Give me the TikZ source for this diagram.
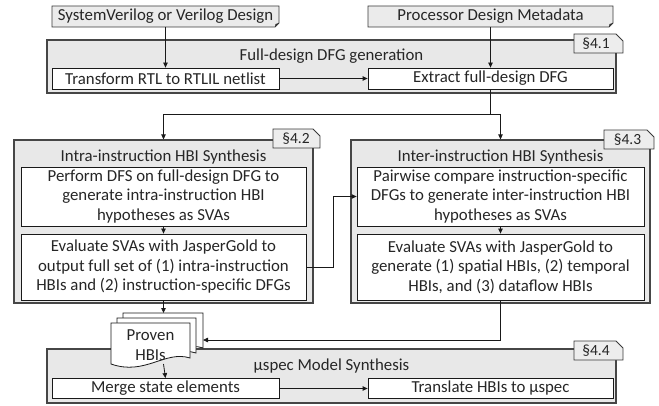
\documentclass[tikz,border=0pt]{standalone}
\usepackage{fontspec}
\setmainfont{Carlito}
\usetikzlibrary{arrows.meta}
\begin{document}
\begin{tikzpicture}[x=1pt,y=-1pt,
  every node/.style={font=\fontsize{16.8}{19.5}\selectfont, text=black!85, inner sep=0pt, align=center},
  bx/.style={draw=black!90, fill=white, line width=0.8pt},
  grp/.style={draw=gray!55!black, fill=gray!18, line width=1.2pt},
  tabst/.style={draw=gray!45!black, fill=gray!14, line width=0.8pt},
  inbox/.style={draw=gray!45!black, fill=gray!16, line width=0.8pt},
  page/.style={draw=black!90, fill=white, line width=0.8pt},
  ln/.style={draw=black!90, line width=0.8pt},
  tabtxt/.style={font=\fontsize{15.5}{17}\selectfont},
  arr/.style={ln, -{Triangle[length=5pt,width=4.5pt]}}]
\useasboundingbox (0,0) rectangle (659,406);

% ---------- inputs ----------
\draw[inbox] (52,6) -- (279,6) -- (279,23) -- (275,27) -- (52,27) -- cycle;
\fill[black!80] (279,23) -- (275.5,24) -- (275,27) -- cycle;
\node (sv) at (165.5,16.5) {SystemVerilog or Verilog Design};
\draw[inbox] (368,6) -- (613,6) -- (613,23) -- (609,27) -- (368,27) -- cycle;
\fill[black!80] (613,23) -- (609.5,24) -- (609,27) -- cycle;
\node (pm) at (490.5,16.5) {Processor Design Metadata};
\coordinate (svb) at (165.5,27);
\coordinate (pmb) at (490.5,27);

% ---------- Full-design DFG generation ----------
\node[grp, minimum width=569pt, minimum height=53pt] (fullgrp) at (331.5,66.5) {};
\draw[tabst] (574,53) -- (574,34) -- (616,34) -- (623,41) -- (623,53) -- cycle;
\node[tabtxt] (t41) at (596,43.5) {§4.1};
\node (fulltitle) at (331.5,56) {Full-design DFG generation};
\node[bx, minimum width=227pt, minimum height=21pt] (tr) at (165.5,78.5) {Transform RTL to RTLIL netlist};
\node[bx, minimum width=245pt, minimum height=21pt] (ex) at (490.5,78.5) {Extract full-design DFG};
\draw[arr] (svb) -- (tr.north);
\draw[arr] (pmb) -- (ex.north);
\draw[arr] (tr.east) -- (ex.west);

% ---------- Intra-instruction ----------
\node[grp, minimum width=299pt, minimum height=163pt] (intragrp) at (163.5,221.5) {};
\draw[tabst] (273,148) -- (273,129) -- (313,129) -- (320,136) -- (320,148) -- cycle;
\node[tabtxt] (t42) at (296,138.5) {§4.2};
\node (intratitle) at (163.5,157) {Intra-instruction HBI Synthesis};
\node[bx, minimum width=285pt, minimum height=59pt] (b1) at (163.5,196.5) {Perform DFS on full-design DFG to\\generate intra-instruction HBI\\hypotheses as SVAs};
\node[bx, minimum width=285pt, minimum height=66pt] (b2) at (163.5,267) {Evaluate SVAs with JasperGold to\\output full set of (1) intra-instruction\\HBIs and (2) instruction-specific DFGs};
\draw[arr] (b1.south) -- (b2.north);

% ---------- Inter-instruction ----------
\node[grp, minimum width=299pt, minimum height=163pt] (intergrp) at (500.5,221.5) {};
\draw[tabst] (604,149) -- (604,130) -- (647,130) -- (654,137) -- (654,149) -- cycle;
\node[tabtxt] (t43) at (627.5,139.5) {§4.3};
\node (intertitle) at (500.5,157) {Inter-instruction HBI Synthesis};
\node[bx, minimum width=287pt, minimum height=59pt] (c1) at (500.5,196.5) {Pairwise compare instruction-specific\\DFGs to generate inter-instruction HBI\\hypotheses as SVAs};
\node[bx, minimum width=287pt, minimum height=66pt] (c2) at (500.5,267) {Evaluate SVAs with JasperGold to\\generate (1) spatial HBIs, (2) temporal\\HBIs, and (3) dataflow HBIs};
\draw[arr] (c1.south) -- (c2.north);

% split from extract
\coordinate (split) at (490.5,114);
\draw[ln] (ex.south) -- (split);
\draw[arr] (split) -| (intragrp.north);
\draw[arr] (split) -| (intergrp.north);
\draw[arr] (b2.east) -- ++(27,0) |- (c1.west);

% ---------- uspec group ----------
\node[grp, minimum width=569pt, minimum height=54pt] (ugrp) at (331.5,376) {};
\draw[tabst] (574,360) -- (574,341) -- (616,341) -- (623,348) -- (623,360) -- cycle;
\node[tabtxt] (t44) at (596,350.5) {§4.4};
\node (utitle) at (331.5,366) {µspec Model Synthesis};
\node[bx, minimum width=227pt, minimum height=20pt] (mg) at (165.5,388.5) {Merge state elements};
\node[bx, minimum width=245pt, minimum height=20pt] (tl) at (490.5,388.5) {Translate HBIs to µspec};
\draw[arr] (mg.east) -- (tl.west);

% ---------- Proven HBIs stack ----------
\draw[page] (203,348) .. controls (178,340) and (158,366) .. (123,354) -- (123,313) -- (203,313) -- cycle;
\draw[page] (196,353) .. controls (171,345) and (151,371) .. (117,359) -- (117,318) -- (196,318) -- cycle;
\draw[page] (190,358) .. controls (165,350) and (145,376) .. (111,364) -- (111,323) -- (190,323) -- cycle;
\node (hbis) at (150.5,345) {Proven\\HBIs};
\coordinate (stacktop) at (163.5,313);
\coordinate (stackbot) at (163.5,364);
\coordinate (stackright) at (203,340);
\draw[arr] (b2.south) -- (stacktop);
\draw[arr] (stackbot) -- (mg.north);
\draw[arr] (c2.south) |- (stackright);
\end{tikzpicture}
\end{document}
